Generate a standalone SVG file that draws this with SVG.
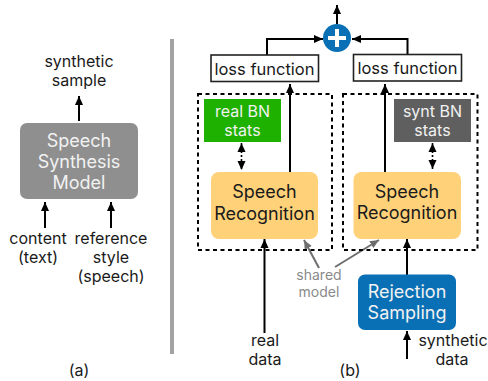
<svg xmlns="http://www.w3.org/2000/svg" width="488" height="381" viewBox="0 0 488 381">
<style>
text{font-family:"Inter","Liberation Sans",sans-serif;text-anchor:middle;fill:#1a1a1a}
.t15{font-size:16px}
.t16{font-size:16.500px}
.t18{font-size:18px}
.w{fill:#f2f2f2}
.g{fill:#8a8a8a;font-size:14px}
.c{fill:none;stroke:#000;stroke-width:2}
.gc{fill:none;stroke:#6e6e6e;stroke-width:2}
.d{fill:none;stroke:#000;stroke-width:2;stroke-dasharray:4 3.5}
</style>
<defs>
<marker id="a" markerUnits="userSpaceOnUse" markerWidth="10" markerHeight="10" refX="9" refY="4.500" orient="auto-start-reverse"><path d="M0 0.500L9 4.500L0 8.500Z" fill="#000"/></marker>
<marker id="ag" markerUnits="userSpaceOnUse" markerWidth="10" markerHeight="10" refX="9" refY="4.500" orient="auto"><path d="M0 0.500L9 4.500L0 8.500Z" fill="#6e6e6e"/></marker>
</defs>
<rect x="170" y="39" width="4" height="315" fill="#a3a3a3"/>
<g id="connectors">
<path class="c" marker-end="url(#a)" d="M79 121V96"/>
<path class="c" marker-end="url(#a)" d="M45 228V202"/>
<path class="c" marker-end="url(#a)" d="M111 228V202"/>
<path class="c" marker-end="url(#a)" d="M267 55V39H323"/>
<path class="c" marker-end="url(#a)" d="M407.500 54V39H352"/>
<path class="c" marker-end="url(#a)" d="M337 24V5"/>
<path class="c" marker-end="url(#a)" d="M290 172V84"/>
<path class="c" marker-end="url(#a)" d="M385 172V84"/>
<path class="c" marker-end="url(#a)" d="M264.500 333V239"/>
<path class="c" marker-end="url(#a)" d="M407 277V239"/>
<path class="c" marker-end="url(#a)" d="M407 359V331"/>
<path fill="none" stroke="#000" stroke-width="1.600" stroke-dasharray="2 2" marker-start="url(#a)" marker-end="url(#a)" d="M241.500 143V170"/>
<path fill="none" stroke="#000" stroke-width="1.600" stroke-dasharray="2 2" marker-start="url(#a)" marker-end="url(#a)" d="M432.500 143V169"/>
<path class="gc" marker-end="url(#ag)" d="M319 268L304 240"/>
<path class="gc" marker-end="url(#ag)" d="M335 267L379 240"/>
</g>
<g id="synthesis-model">
<rect x="20" y="123" width="118" height="76" rx="7" fill="#8f8f8f"/>
<text class="t18 w" x="79" y="147">Speech</text>
<text class="t18 w" x="79" y="168">Synthesis</text>
<text class="t18 w" x="79" y="189">Model</text>
</g>
<g id="synthetic-sample"><text class="t15" x="79" y="67">synthetic</text><text class="t15" x="79" y="86">sample</text></g>
<g id="content"><text class="t15" x="38" y="244">content</text><text class="t15" x="38" y="263">(text)</text></g>
<g id="reference"><text class="t15" x="111" y="244">reference</text><text class="t15" x="111" y="263">style</text><text class="t15" x="111" y="282">(speech)</text></g>
<g id="label-a"><text class="t15" x="79" y="376">(a)</text></g>
<g id="shared-left"><rect class="d" x="198" y="94" width="134" height="156"/></g>
<g id="shared-right"><rect class="d" x="343" y="94" width="134.500" height="156"/></g>
<g id="plus">
<circle cx="337" cy="38" r="14" fill="#0a70b5"/>
<path d="M337 29V47M328 38H346" stroke="#fff" stroke-width="4" fill="none"/>
</g>
<g id="loss-left"><rect x="211" y="55" width="107.500" height="26.500" fill="#fff" stroke="#222" stroke-width="1.600"/><text class="t16" x="264.500" y="75">loss function</text></g>
<g id="loss-right"><rect x="353.500" y="54.500" width="108" height="26.500" fill="#fff" stroke="#222" stroke-width="1.600"/><text class="t16" x="407.500" y="74">loss function</text></g>
<g id="real-bn"><rect x="204" y="99" width="77" height="43" fill="#1fb100"/><text class="t15 w" x="242.500" y="117">real BN</text><text class="t15 w" x="242.500" y="136">stats</text></g>
<g id="synt-bn"><rect x="394" y="99" width="77" height="43" fill="#5f5f5f"/><text class="t15 w" x="432.500" y="117">synt BN</text><text class="t15 w" x="432.500" y="136">stats</text></g>
<g id="recognition-left"><rect x="211" y="172" width="107" height="67" rx="8" fill="#ffd27a"/><text class="t18" x="264.500" y="198">Speech</text><text class="t18" x="264.500" y="220">Recognition</text></g>
<g id="recognition-right"><rect x="353.500" y="172" width="107.500" height="67" rx="8" fill="#ffd27a"/><text class="t18" x="407" y="198">Speech</text><text class="t18" x="407" y="219">Recognition</text></g>
<g id="rejection"><rect x="358" y="274.500" width="98" height="55.500" rx="7" fill="#0a70b5"/><text class="t18 w" x="407" y="298">Rejection</text><text class="t18 w" x="407" y="319">Sampling</text></g>
<g id="shared-label"><text class="g" x="319" y="280">shared</text><text class="g" x="319" y="297">model</text></g>
<g id="real-data"><text class="t15" x="265" y="346">real</text><text class="t15" x="265" y="365">data</text></g>
<g id="synthetic-data"><text class="t15" x="453" y="346">synthetic</text><text class="t15" x="452" y="365">data</text></g>
<g id="label-b"><text class="t15" x="350" y="376">(b)</text></g>
</svg>
